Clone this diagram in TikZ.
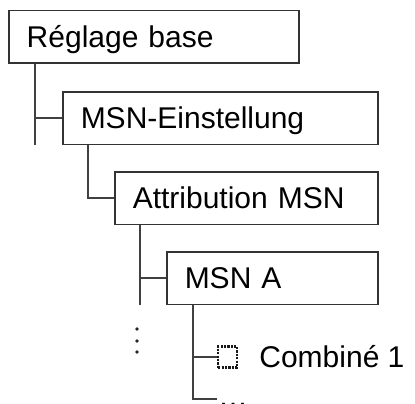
\documentclass[tikz,border=0pt]{standalone}
\usepackage{fontspec}
\setmainfont{Liberation Sans}
\usepackage{tikz}
\usetikzlibrary{positioning}
\tikzstyle{menu} = [rectangle, draw=black!80, line width=1.5pt, minimum height=52.5pt, inner xsep=18pt, inner ysep=0pt, text height=21.5pt, text depth=0pt, align=left, anchor=north west, font=\fontsize{30}{36}\selectfont]
\tikzstyle{itemtext} = [inner sep=0pt, text height=21.5pt, text depth=0pt, font=\fontsize{30}{36}\selectfont]
\tikzstyle{check} = [rectangle, draw=black!90, line width=2.2pt, dash pattern=on 2.2pt off 1.2pt, minimum width=19pt, minimum height=21pt, inner sep=0pt, anchor=west]
\tikzstyle{branch} = [draw=black!75, line width=1.5pt]

\begin{document}
\begin{tikzpicture}
        \useasboundingbox (0,0) rectangle (415pt,-404pt);
        \node (reglage_base) [menu, text width=254pt] at (8pt,-10pt) {Réglage base};
        \node (msn_einstellung) [menu, text width=279pt] at ([xshift=54pt, yshift=-27pt]reglage_base.south west) {MSN-Einstellung};
        \node (attribution_msn) [menu, text width=227pt] at ([xshift=52pt, yshift=-26pt]msn_einstellung.south west) {Attribution MSN};
        \node (msn_a) [menu, text width=175pt] at ([xshift=52pt, yshift=-26pt]attribution_msn.south west) {MSN A};

        \coordinate (reglage_base_stem) at ([xshift=27pt]reglage_base.south west);
        \coordinate (msn_einstellung_stem) at ([xshift=26pt]msn_einstellung.south west);
        \coordinate (attribution_msn_stem) at ([xshift=26pt]attribution_msn.south west);
        \coordinate (msn_a_stem) at ([xshift=27pt]msn_a.south west);

        \node (combine_box) [check] at ([xshift=24pt, yshift=-52pt]msn_a_stem) {};
        \node (combine_text) [itemtext, right=21pt of combine_box] {Combiné 1};
        \coordinate (more_msn_a_end) at ([xshift=24pt, yshift=-94pt]msn_a_stem);
        \node (more_msn_a) [inner sep=0pt, anchor=base west, font=\fontsize{30}{36}\selectfont] at ([xshift=25pt, yshift=-101pt]msn_a_stem) {…};

        \draw [branch] (reglage_base_stem) -- (reglage_base_stem |- msn_einstellung.south);
        \draw [branch] (reglage_base_stem |- msn_einstellung.west) -- (msn_einstellung.west);
        \draw [branch] (msn_einstellung_stem) |- (attribution_msn.west);
        \draw [branch] (attribution_msn_stem) -- (attribution_msn_stem |- msn_a.south);
        \draw [branch] (attribution_msn_stem |- msn_a.west) -- (msn_a.west);
        \draw [branch] (msn_a_stem |- combine_box.west) -- (combine_box.west);
        \draw [branch] (msn_a_stem) |- (more_msn_a_end);

        % more entries below Attribution MSN
        \foreach \y in {-24,-36,-47}
            \fill [black!85] ([xshift=-29pt, yshift=\y pt]msn_a.south west) circle (1.8pt);
    \end{tikzpicture}
\end{document}
